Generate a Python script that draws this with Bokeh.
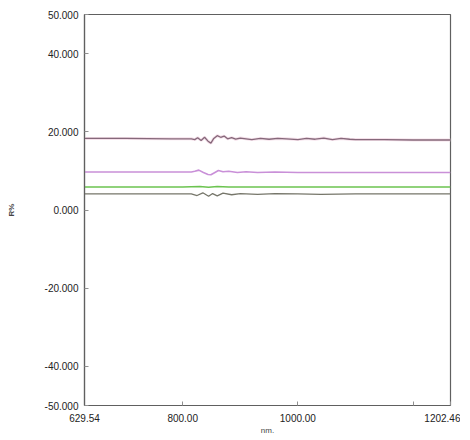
from bokeh.plotting import figure
from bokeh.models import FixedTicker, Range1d
from bokeh.embed import file_html
from bokeh.resources import INLINE

# wavelength (nm) and reflectance (%)
x_upper = [629.54, 700, 780, 815, 821, 826, 832, 838, 844, 849, 854, 860, 866, 872, 878, 885,
           892, 900, 910, 920, 935, 950, 965, 980, 1000, 1015, 1030, 1045, 1060, 1075, 1090,
           1100, 1150, 1200, 1265]
y_upper = [18.3, 18.3, 18.2, 18.2, 18.0, 18.5, 17.8, 18.6, 17.6, 17.1, 18.3, 19.0, 18.6, 18.9,
           18.2, 18.5, 18.1, 18.4, 18.2, 18.0, 18.3, 18.1, 18.3, 18.2, 18.0, 18.3, 18.1, 18.4,
           18.0, 18.3, 18.1, 18.0, 18.0, 17.9, 17.9]

x_violet = [629.54, 780, 815, 821, 828, 836, 844, 849, 856, 862, 870, 880, 895, 910, 930, 960,
            1000, 1050, 1100, 1200, 1265]
y_violet = [9.7, 9.7, 9.7, 9.9, 10.2, 9.6, 9.1, 9.0, 9.6, 10.1, 9.8, 9.9, 9.6, 9.8, 9.6, 9.7,
            9.6, 9.6, 9.6, 9.6, 9.6]

x_green = [629.54, 800, 830, 845, 860, 880, 1000, 1265]
y_green = [5.9, 5.9, 6.0, 5.8, 6.0, 5.9, 5.9, 5.9]

x_gray = [629.54, 780, 815, 825, 835, 845, 852, 860, 870, 885, 900, 930, 960, 1000, 1040, 1100,
          1265]
y_gray = [4.1, 4.1, 4.1, 3.7, 4.4, 3.5, 4.2, 3.6, 4.3, 3.9, 4.2, 4.0, 4.2, 4.1, 4.0, 4.1, 4.1]

x_ticks = [629.54, 800, 1000, 1200, 1265]
x_tick_labels = ["629.54", "800.00", "1000.00", "", "1202.46"]
y_ticks = [-50, -40, -20, 0, 20, 40, 50]
y_tick_labels = ["-50.000", "-40.000", "-20.000", "0.000", "20.000", "40.000", "50.000"]

FONT = "Liberation Sans"

p = figure(width=460, height=437, output_backend="svg", toolbar_location=None,
           x_range=Range1d(629.54, 1265), y_range=Range1d(-50, 50),
           min_border_left=84, min_border_right=10, min_border_top=14, min_border_bottom=25)

p.grid.visible = False
p.outline_line_color = "#606060"
p.outline_line_width = 1.2
p.background_fill_color = "white"
p.border_fill_color = "white"

p.line(x_upper, y_upper, line_color="#f5e0ea", line_width=3)
p.line(x_upper, y_upper, line_color="#85687a", line_width=1.3)
p.line(x_violet, y_violet, line_color="#c990d8", line_width=1.6)
p.line(x_green, y_green, line_color="#6cc450", line_width=1.4)
p.line(x_gray, y_gray, line_color="#76766a", line_width=1.3)

for ax in (p.xaxis[0], p.yaxis[0]):
    ax.axis_line_color = "#606060"
    ax.axis_line_width = 1.2
    ax.major_tick_in = 4
    ax.major_tick_out = 0
    ax.major_tick_line_color = "#909090"
    ax.minor_tick_line_color = None
    ax.major_label_text_font = FONT
    ax.major_label_text_font_size = "10px"
    ax.major_label_text_color = "#222222"
    ax.axis_label_text_font = FONT
    ax.axis_label_text_font_style = "normal"

p.xaxis.ticker = FixedTicker(ticks=x_ticks)
p.xaxis.major_label_overrides = {t: l for t, l in zip(x_ticks, x_tick_labels)}
p.xaxis.major_label_standoff = 8
p.xaxis.axis_label = "nm."
p.xaxis.axis_label_text_font_size = "8px"
p.xaxis.axis_label_standoff = 1

p.yaxis.ticker = FixedTicker(ticks=y_ticks)
p.yaxis.major_label_overrides = {t: l for t, l in zip(y_ticks, y_tick_labels)}
p.yaxis.major_label_standoff = 6
p.yaxis.axis_label = "R%"
p.yaxis.axis_label_text_font_size = "8px"
p.yaxis.axis_label_text_font_style = "bold"
p.yaxis.axis_label_standoff = 26

open("out.html", "w").write(file_html(p, INLINE))
